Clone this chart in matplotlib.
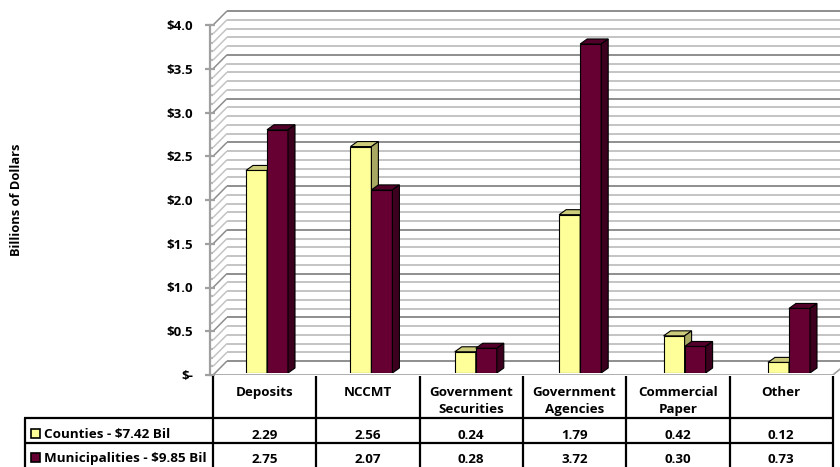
import matplotlib
matplotlib.use("Agg")
import matplotlib.pyplot as plt
from matplotlib.patches import Polygon, Rectangle
from matplotlib.ticker import FixedLocator

# ---------------- data ----------------
categories = ["Deposits", "NCCMT", "Government\nSecurities", "Government\nAgencies",
              "Commercial\nPaper", "Other"]
counties = [2.29, 2.56, 0.24, 1.79, 0.42, 0.12]
municipalities = [2.75, 2.07, 0.28, 3.72, 0.30, 0.73]
series_names = ["Counties - $7.42 Bil", "Municipalities - $9.85 Bil"]
yticks = [0.0, 0.5, 1.0, 1.5, 2.0, 2.5, 3.0, 3.5, 4.0]
ytick_labels = ["$-", "$0.5", "$1.0", "$1.5", "$2.0", "$2.5", "$3.0", "$3.5", "$4.0"]
ylabel = "Billions of Dollars"

# ---------------- style ----------------
plt.rcParams["font.family"] = ["Open Sans", "DejaVu Sans"]
W, H = 840, 467
C_YEL = "#FFFF99"; C_YEL_TOP = "#CCCC7A"; C_YEL_SIDE = "#A8A862"
C_MUN = "#660033"; C_MUN_TOP = "#52002A"; C_MUN_SIDE = "#3C001E"
GRID_MINOR = "#C4C4C4"; GRID_MAJOR = "#8E8E8E"; AXIS_GRAY = "#A0A0A0"

fig = plt.figure(figsize=(W / 100, H / 100), dpi=100)


def rect_px(x0, ytop, x1, ybot):
    return [x0 / W, (H - ybot) / H, (x1 - x0) / W, (ybot - ytop) / H]


# column geometry of the data table (pixels)
COL0, COLW = 264.7, 103.3


def cx(px):
    return (px - COL0) / COLW


# ---------------- wall / axis axes ----------------
ax = fig.add_axes(rect_px(210, 5, 840, 375))
ax.set_xlim(cx(210), cx(840))
ax.set_ylim(0, (375 - 5) / 87.5)
ax.patch.set_visible(False)
for s in ["top", "right", "bottom"]:
    ax.spines[s].set_visible(False)
ax.spines["left"].set_color(AXIS_GRAY)
ax.spines["left"].set_linewidth(1.6)
ax.spines["left"].set_bounds(yticks[0], yticks[-1])
ax.set_xticks([])
ax.set_yticks(yticks)
ax.set_yticklabels(ytick_labels, fontweight="bold", fontsize=9.5)
n_lines = int(round(yticks[-1] / 0.1)) + 1
minor_vals = [k * 0.1 for k in range(n_lines) if k % 5 != 0]
ax.yaxis.set_minor_locator(FixedLocator(minor_vals))
ax.tick_params(axis="y", which="major", direction="inout", length=6.5, width=1.6,
               color=AXIS_GRAY, pad=9)
ax.tick_params(axis="y", which="minor", direction="in", length=2, width=1.6,
               color="#B8B8B8")

x_l, x_r = ax.get_xlim()
ddx = 17 / COLW
ddy = 14 / 87.5
for k in range(n_lines):
    v = k * 0.1
    major = (k % 5 == 0)
    col = GRID_MAJOR if major else GRID_MINOR
    ax.plot([x_l + 0.03, x_l + ddx], [v, v + ddy], color=col, lw=1.1, zorder=1,
            solid_capstyle="butt")
    ax.plot([x_l + ddx, x_r], [v + ddy, v + ddy], color=col, lw=1.4, zorder=1,
            solid_capstyle="butt")
# floor front edge and right edge
x_end = len(categories) - 0.5
ax.plot([x_l, x_end], [0, 0], color=AXIS_GRAY, lw=1.2, zorder=1)
ax.plot([x_end, x_end + ddx], [0, ddy], color=AXIS_GRAY, lw=1.2, zorder=1)

# ---------------- bars axes ----------------
axb = fig.add_axes(rect_px(210, 5, 840, 373))
BW_PX, BSTEP, BC0 = 21, 104.4, 267
axb.set_xlim((210 - BC0) / BSTEP, (840 - BC0) / BSTEP)
axb.set_ylim(0, (373 - 5) / 88.45)
axb.axis("off")
bw = BW_PX / BSTEP
bdx = 7 / BSTEP
bdy = 5 / 88.45

xs = list(range(len(categories)))


def draw_3d(x_left, vals, front, top, side, z):
    axb.bar(x_left, vals, width=bw, align="edge", color=front, edgecolor="black",
            linewidth=0.8, zorder=z)
    for xl, v in zip(x_left, vals):
        xr = xl + bw
        axb.add_patch(Polygon([(xl, v), (xr, v), (xr + bdx, v + bdy), (xl + bdx, v + bdy)],
                              closed=True, facecolor=top, edgecolor="black", lw=0.8, zorder=z))
        axb.add_patch(Polygon([(xr, 0), (xr, v), (xr + bdx, v + bdy), (xr + bdx, bdy)],
                              closed=True, facecolor=side, edgecolor="black", lw=0.8, zorder=z))


draw_3d([x - bw for x in xs], counties, C_YEL, C_YEL_TOP, C_YEL_SIDE, 2)
draw_3d([x for x in xs], municipalities, C_MUN, C_MUN_TOP, C_MUN_SIDE, 3)

# ---------------- data table ----------------
axt = fig.add_axes([0, 0, 1, 1])
axt.set_xlim(cx(0), cx(W))
axt.set_ylim(H, 0)
axt.axis("off")
axt.patch.set_visible(False)

LW = 1.6
n = len(categories)
for j in range(n + 1):
    axt.plot([j - 0.5, j - 0.5], [376, H + 2], color="black", lw=LW,
             solid_capstyle="butt")
axt.plot([cx(25), cx(25)], [418, H + 2], color="black", lw=LW, solid_capstyle="butt")
for yy in [418, 443]:
    axt.plot([cx(25) - 0.005, n - 0.5 + 0.005], [yy, yy], color="black", lw=LW,
             solid_capstyle="butt")

FS = 9.6
for i, cat in enumerate(categories):
    for li, line in enumerate(cat.split("\n")):
        axt.text(i, 396 + 17 * li, line, ha="center", va="baseline",
                 fontsize=FS, fontweight="bold")
    axt.text(i, 439, f"{counties[i]:.2f}", ha="center", va="baseline",
             fontsize=FS, fontweight="bold")
    axt.text(i, 463, f"{municipalities[i]:.2f}", ha="center", va="baseline",
             fontsize=FS, fontweight="bold")

for (name, col, base) in [(series_names[0], C_YEL, 438), (series_names[1], C_MUN, 462)]:
    axt.add_patch(Rectangle((cx(30.5), base - 9), cx(40.5) - cx(30.5), 9,
                            facecolor=col, edgecolor="black", lw=1.2))
    axt.text(cx(44), base, name, ha="left", va="baseline", fontsize=9.7,
             fontweight="bold")

fig.text(17 / W, 1 - 200 / H, ylabel, rotation=90, ha="center", va="center",
         fontsize=9.3, fontweight="bold")

fig.savefig("out.png", dpi=100)
